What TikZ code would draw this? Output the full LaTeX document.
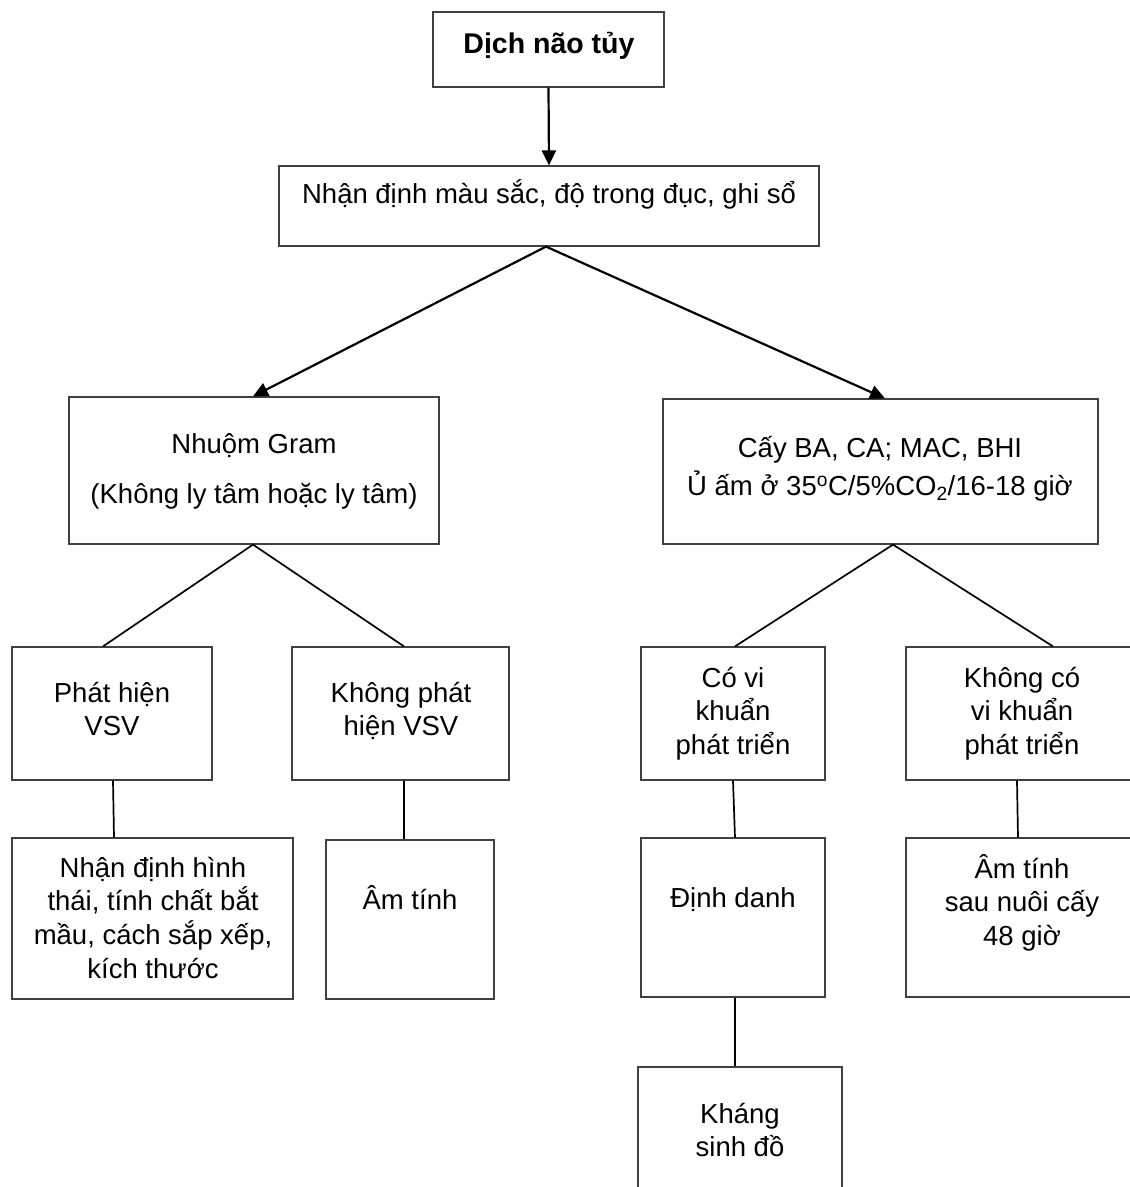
\documentclass[tikz,border=0pt]{standalone}
\usepackage{fontspec}
\setmainfont{Liberation Sans}
\usetikzlibrary{arrows.meta,calc}

% rectangle given by left, top, right, bottom (y grows downward)
\newcommand\flowbox[5]{%
  \node[box, minimum width={#4pt-#2pt}, minimum height={#5pt-#3pt}]
    (#1) at ({(#2+#4)/2},{(#3+#5)/2}) {};}
% centred lines, baseline of the first line on the anchor
\newcommand\stackedtext[1]{\begin{tabular}[t]{@{}c@{}}#1\end{tabular}}

\tikzset{
  box/.style={draw=black!75, line width=1.2pt, rectangle, inner sep=0pt, fill=white},
  txt/.style={inner sep=0pt, anchor=base, font=\fontsize{27.5}{33.7}\selectfont},
  link/.style={draw=black, line width=1.7pt},
  arr/.style={draw=black, line width=2.2pt, -{Triangle[length=15pt,width=14pt]}},
}

\begin{document}
\begin{tikzpicture}[x=1pt,y=-1pt]
\useasboundingbox (0,0) rectangle (1130,1187);
\clip (0,0) rectangle (1130,1187);
\fill[white] (0,0) rectangle (1130,1187);

% boxes
\flowbox{b1}{433}{12}{664}{87}
\flowbox{b2}{279}{166}{819}{246}
\flowbox{b3}{69}{397}{439}{544}
\flowbox{b4}{663}{399}{1098}{544}
\flowbox{b5}{12}{647}{212}{780}
\flowbox{b6}{292}{647}{509}{780}
\flowbox{b7}{641}{647}{825}{780}
\flowbox{b8}{906}{647}{1138}{780}
\flowbox{b9}{12}{838}{293}{999}
\flowbox{b10}{326}{840}{494}{999}
\flowbox{b11}{641}{838}{825}{997}
\flowbox{b12}{906}{838}{1138}{997}
\flowbox{b13}{638}{1067}{842}{1210}

% texts
\node[txt, font=\fontsize{28.5}{33.7}\selectfont\bfseries] (t1) at (549,53) {Dịch não tủy};
\node[txt] (t2) at (549,203) {Nhận định màu sắc, độ trong đục, ghi sổ};
\node[txt] (t3) at (254,453) {\stackedtext{Nhuộm Gram\\[17pt](Không ly tâm hoặc ly tâm)}};
\node[txt] (t4) at (880,457) {\stackedtext{Cấy BA, CA; MAC, BHI\\[4pt]Ủ ấm ở 35\textsuperscript{o}C/5\%CO\textsubscript{2}/16-18 giờ}};
\node[txt] (t5) at (112,702) {\stackedtext{Phát hiện\\VSV}};
\node[txt] (t6) at (401,702) {\stackedtext{Không phát\\hiện VSV}};
\node[txt] (t7) at (733,687) {\stackedtext{Có vi\\khuẩn\\phát triển}};
\node[txt] (t8) at (1022,687) {\stackedtext{Không có\\vi khuẩn\\phát triển}};
\node[txt] (t9) at (153,877) {\stackedtext{Nhận định hình\\thái, tính chất bắt\\mầu, cách sắp xếp,\\kích thước}};
\node[txt] (t10) at (410,909) {Âm tính};
\node[txt] (t11) at (733,907) {Định danh};
\node[txt] (t12) at (1022,878) {\stackedtext{Âm tính\\sau nuôi cấy\\48 giờ}};
\node[txt] (t13) at (740,1123) {\stackedtext{Kháng\\sinh đồ}};

% connectors
\draw[arr] (b1.south) -- (b2.north);
\draw[arr] ($(b2.south)+(-3,0)$) -- ($(b3.north)+(-1,0)$);
\draw[arr] ($(b2.south)+(-3,0)$) -- ($(b4.north)+(4.5,0)$);
\draw[link] ($(b3.south)+(-1,0)$) -- ($(b5.north)+(-9,0)$);
\draw[link] ($(b3.south)+(-1,0)$) -- ($(b6.north)+(3.5,0)$);
\draw[link] ($(b4.south)+(12.5,0)$) -- ($(b7.north)+(2,0)$);
\draw[link] ($(b4.south)+(12.5,0)$) -- ($(b8.north)+(31,0)$);
\draw[link] ($(b5.south)+(1,0)$) -- ($(b9.north)+(-38.5,0)$);
\draw[link] ($(b6.south)+(3.5,0)$) -- ($(b10.north)+(-6,0)$);
\draw[link] (b7.south) -- ($(b11.north)+(2,0)$);
\draw[link] ($(b8.south)+(-5,0)$) -- ($(b12.north)+(-4,0)$);
\draw[link] ($(b11.south)+(2,0)$) -- ($(b13.north)+(-5,0)$);
\end{tikzpicture}
\end{document}
